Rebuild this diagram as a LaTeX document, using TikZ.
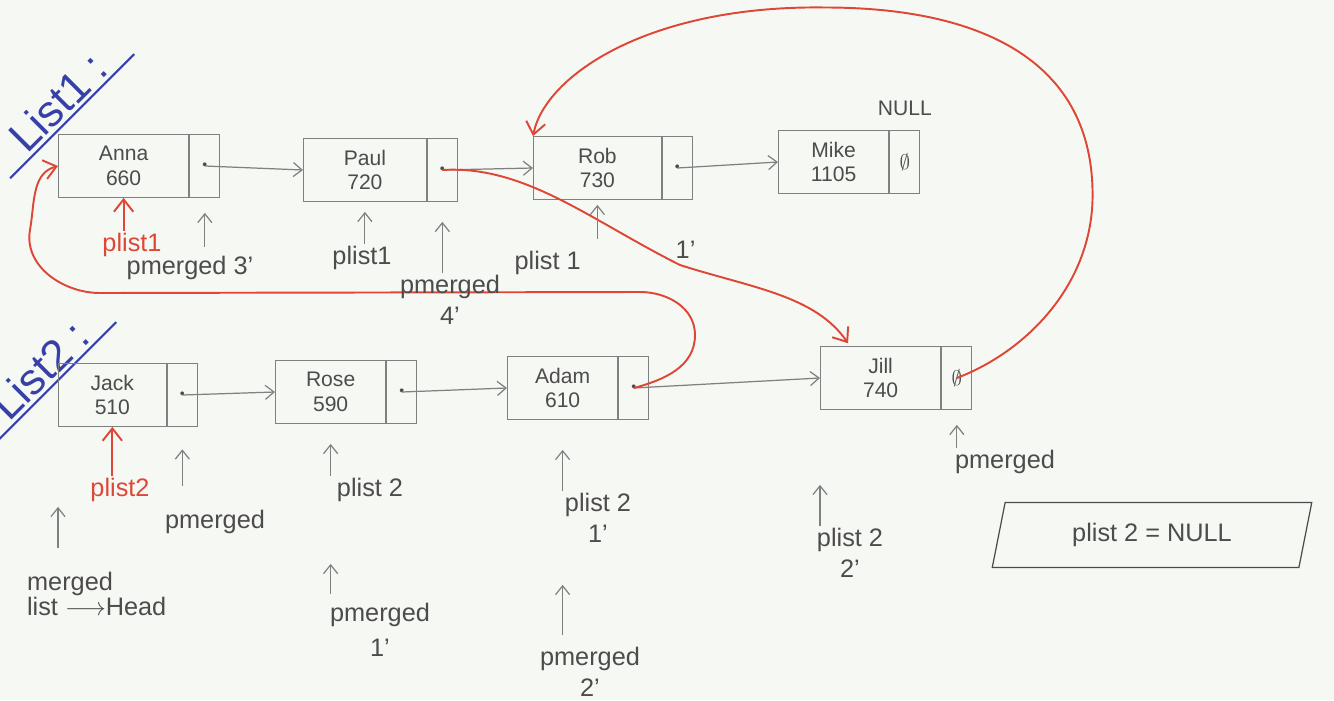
\documentclass[tikz,border=0pt]{standalone}
\usepackage{fontspec}
\setmainfont{Liberation Sans}
\usepackage{amssymb}
\usepackage{tikz}
\usetikzlibrary{arrows, arrows.meta, shapes, shapes.geometric, positioning}
\definecolor{Paper}{rgb}{0.965, 0.972, 0.958}
\definecolor{Pencil}{rgb}{0.50, 0.50, 0.50}
\definecolor{Graphite}{rgb}{0.30, 0.30, 0.30}
\definecolor{RedPen}{rgb}{0.87, 0.28, 0.21}
\definecolor{BluePen}{rgb}{0.21, 0.25, 0.66}

\begin{document}
\begin{tikzpicture}[
		>={Straight Barb[length=5pt, width=8pt]},
		data/.style={draw=Pencil, line width=0.7pt, rectangle, anchor=west, minimum height=1.25cm, align=center, text=Graphite, font=\large, inner sep=2pt},
		ptr/.style={draw=Pencil, line width=0.7pt, rectangle, minimum height=1.25cm, minimum width=0.6cm, text=Graphite, inner sep=0pt},
		link/.style={->, draw=Pencil, line width=0.7pt},
		redlink/.style={-{Straight Barb[length=7pt, width=11pt]}, draw=RedPen, line width=1.1pt},
		note/.style={text=Graphite, font=\Large, align=center, inner sep=1pt},
		rednote/.style={text=RedPen, font=\Large, inner sep=1pt},
		listname/.style={text=BluePen, font=\fontsize{25}{30}\selectfont, rotate=45, minimum width=3.5cm, inner sep=2pt},
	]
	\useasboundingbox[fill=Paper] (0,0) rectangle (26.68,-14);

	% list 1
	\node[listname] (list1) at (1.16,-2.04) {List1 :};
	\draw[BluePen, line width=1.2pt] (list1.south west) -- (list1.south east);
	\node[data, minimum width=2.6cm] (anna) at (1.16,-3.32) {Anna\\660};
	\node[ptr, right=0pt of anna] (annap) {\footnotesize\textbullet};
	\node[data, minimum width=2.45cm] (paul) at (6.06,-3.4) {Paul\\720};
	\node[ptr, right=0pt of paul] (paulp) {\footnotesize\textbullet};
	\node[data, minimum width=2.55cm] (rob) at (10.66,-3.36) {Rob\\730};
	\node[ptr, right=0pt of rob] (robp) {\footnotesize\textbullet};
	\node[data, minimum width=2.2cm] (mike) at (15.56,-3.24) {Mike\\1105};
	\node[ptr, right=0pt of mike, font=\large] (mikep) {$\emptyset$};
	\node[note, font=\large, above=0.25cm of mikep] (null) {NULL};
	\draw[link] (annap.center) -- (paul.west);
	\draw[link] (paulp.center) -- (rob.west);
	\draw[link] (robp.center) -- (mike.west);

	% list 2
	\node[listname] (list2) at (0.8,-7.4) {List2 :};
	\draw[BluePen, line width=1.2pt] (list2.south west) -- (list2.south east);
	\node[data, minimum width=2.15cm] (jack) at (1.16,-7.9) {Jack\\510};
	\node[ptr, right=0pt of jack] (jackp) {\footnotesize\textbullet};
	\node[data, minimum width=2.2cm] (rose) at (5.5,-7.84) {Rose\\590};
	\node[ptr, right=0pt of rose] (rosep) {\footnotesize\textbullet};
	\node[data, minimum width=2.2cm] (adam) at (10.14,-7.76) {Adam\\610};
	\node[ptr, right=0pt of adam] (adamp) {\footnotesize\textbullet};
	\node[data, minimum width=2.4cm] (jill) at (16.4,-7.56) {Jill\\740};
	\node[ptr, right=0pt of jill, font=\large] (jillp) {$\emptyset$};
	\draw[link] (jackp.center) -- (rose.west);
	\draw[link] (rosep.center) -- (adam.west);
	\draw[link] (adamp.center) -- (jill.west);

	% merged links
	\draw[redlink] (adamp.center) to[out=15,in=-90] (13.9,-6.7) to[out=90,in=0] (12.8,-5.84) -- (2.0,-5.86) to[out=180,in=-100] (0.6,-4.6) to[out=80,in=195] (anna.west);
	\draw[redlink, shorten >=2pt] (paulp.center) .. controls (10.5,-3.3) and (11.8,-4.4) .. (13.6,-5.3) .. controls (15.0,-5.75) and (16.3,-5.9) .. ([xshift=0.6cm]jill.north west);
	\draw[redlink] (jillp.center) .. controls (20.6,-7.0) and (21.9,-5.6) .. (21.85,-3.8) .. controls (21.8,-1.2) and (19.6,-0.15) .. (16.5,-0.15) .. controls (13,-0.1) and (10.9,-1.5) .. (rob.north west);

	% pointers
	\node[rednote] (plistA) at (2.64,-4.9) {plist1};
	\draw[redlink] (anna.south |- plistA.north) -- (anna.south);
	\node[note] (pm3) at (3.8,-5.36) {pmerged 3'};
	\draw[link, shorten <=0.15cm, shorten >=0.3cm] (annap.south |- pm3.north) -- (annap.south);
	\node[note] (pl1) at (7.24,-5.16) {plist1};
	\draw[link, shorten >=0.2cm] (paul.south |- pl1.north) -- (paul.south);
	\node[note] (pm4) at (9.0,-6.0) {pmerged\\4'};
	\draw[link, shorten >=0.4cm] (paulp.south |- pm4.north) -- (paulp.south);
	\node[note] (pl1b) at (12.1,-5.16) {plist 1\hspace{1.9cm}\raisebox{0.8ex}{1'}};
	\draw[link, shorten >=0.1cm] (rob.south |- pl1b.north) -- (rob.south);
	\node[note] (pmJ) at (20.1,-9.24) {pmerged};
	\draw[link, shorten >=0.3cm] (jillp.south |- pmJ.north) -- (jillp.south);

	\node[rednote] (plistB) at (2.4,-9.8) {plist2};
	\draw[redlink] (jack.south |- plistB.north) -- (jack.south);
	\node[note] (pmK) at (4.3,-10.44) {pmerged};
	\draw[link, shorten <=0.45cm, shorten >=0.45cm] (jackp.south |- pmK.north) -- (jackp.south);
	\node[note, align=left, anchor=north west] (mlist) at (0.5,-11.4) {merged\\[-4pt]list $\longrightarrow$Head};
	\draw[link, shorten <=0.45cm, shorten >=1.6cm] (jack.south west |- mlist.north) -- (jack.south west);
	\node[note] (pl2) at (7.4,-9.8) {plist 2};
	\draw[link, shorten >=0.4cm] (rose.south |- pl2.north) -- (rose.south);
	\node[note] (pm1) at (7.6,-12.6) {pmerged\\[2pt]1'};
	\draw[link, shorten <=0.15cm, shorten >=2.8cm] (rose.south |- pm1.north) -- (rose.south);
	\node[note] (pl2a) at (11.96,-10.36) {plist 2\\1'};
	\draw[link, shorten >=0.6cm] (adam.south |- pl2a.north) -- (adam.south);
	\node[note] (pm2) at (11.8,-13.44) {pmerged\\2'};
	\draw[link, shorten <=0.2cm, shorten >=3.3cm] (adam.south |- pm2.north) -- (adam.south);
	\node[note] (pl2b) at (17.0,-11.06) {plist 2\\2'};
	\draw[link, shorten >=1.5cm] (jill.south west |- pl2b.north) -- (jill.south west);

	\node[draw=Graphite, line width=0.7pt, trapezium, trapezium left angle=78, trapezium right angle=102, trapezium stretches=true, minimum width=6.4cm, minimum height=1.3cm, text=Graphite, font=\Large] (nullbox) at (23.04,-10.7) {plist 2 = NULL};
\end{tikzpicture}
\end{document}
